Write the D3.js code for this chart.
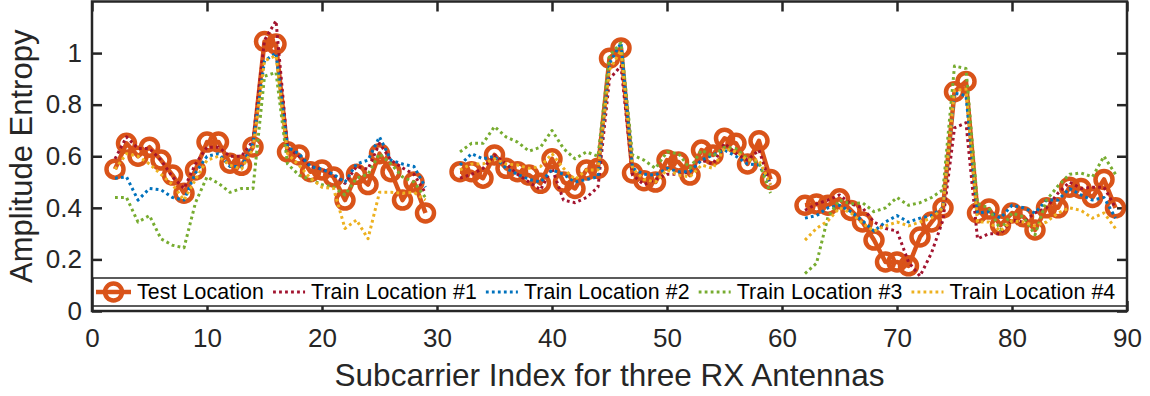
<!DOCTYPE html>
<html>
<head>
<meta charset="utf-8">
<script src="https://cdn.jsdelivr.net/npm/d3@7"></script>
<style>
  body { margin: 0; background: #fff; }
  svg { display: block; font-family: "Liberation Sans", Arial, Helvetica, sans-serif; }
</style>
</head>
<body>
<svg id="chart" width="1150" height="396"></svg>
<script>
// subcarrier index (three antennas, 28 subcarriers each)
const subcarriers = [
  2, 3, 4, 5, 6, 7, 8, 9, 10, 11, 12, 13, 14, 15, 16, 17, 18, 19, 20, 21, 22, 23, 24, 25, 26, 27, 28, 29,
  32, 33, 34, 35, 36, 37, 38, 39, 40, 41, 42, 43, 44, 45, 46, 47, 48, 49, 50, 51, 52, 53, 54, 55, 56, 57, 58, 59,
  62, 63, 64, 65, 66, 67, 68, 69, 70, 71, 72, 73, 74, 75, 76, 77, 78, 79, 80, 81, 82, 83, 84, 85, 86, 87, 88, 89
];

const testLocation = [
  0.55, 0.65, 0.60, 0.635, 0.585, 0.527, 0.457, 0.547, 0.655, 0.655, 0.573, 0.565, 0.636, 1.045, 1.035, 0.617, 0.605, 0.54, 0.547, 0.52, 0.43, 0.53, 0.49, 0.61, 0.54, 0.43, 0.50, 0.38,
  0.54, 0.54, 0.515, 0.605, 0.553, 0.54, 0.527, 0.495, 0.59, 0.50, 0.475, 0.547, 0.553, 0.98, 1.02, 0.535, 0.505, 0.50, 0.585, 0.578, 0.527, 0.624, 0.605, 0.67, 0.65, 0.57, 0.66, 0.51,
  0.41, 0.415, 0.41, 0.435, 0.39, 0.345, 0.275, 0.19, 0.19, 0.175, 0.287, 0.345, 0.40, 0.85, 0.89, 0.38, 0.395, 0.333, 0.38, 0.365, 0.314, 0.40, 0.40, 0.48, 0.475, 0.44, 0.51, 0.40
];
const trainLocation1 = [
  0.59, 0.675, 0.63, 0.63, 0.585, 0.52, 0.475, 0.57, 0.635, 0.635, 0.60, 0.60, 0.66, 1.05, 1.125, 0.635, 0.60, 0.56, 0.55, 0.527, 0.495, 0.56, 0.55, 0.65, 0.585, 0.555, 0.53, 0.457,
  0.515, 0.53, 0.553, 0.605, 0.57, 0.53, 0.50, 0.47, 0.553, 0.43, 0.42, 0.44, 0.48, 0.90, 0.95, 0.527, 0.49, 0.51, 0.53, 0.53, 0.54, 0.585, 0.57, 0.65, 0.61, 0.585, 0.624, 0.49,
  0.39, 0.415, 0.43, 0.45, 0.415, 0.40, 0.345, 0.32, 0.31, 0.19, 0.135, 0.225, 0.353, 0.71, 0.73, 0.28, 0.30, 0.30, 0.353, 0.345, 0.38, 0.40, 0.457, 0.50, 0.475, 0.48, 0.48, 0.40
];
const trainLocation2 = [
  0.515, 0.52, 0.43, 0.475, 0.47, 0.44, 0.43, 0.535, 0.60, 0.61, 0.56, 0.56, 0.65, 0.97, 1.0, 0.635, 0.61, 0.56, 0.55, 0.53, 0.50, 0.57, 0.585, 0.675, 0.585, 0.57, 0.56, 0.48,
  0.566, 0.61, 0.59, 0.60, 0.553, 0.53, 0.51, 0.50, 0.547, 0.53, 0.50, 0.51, 0.52, 0.96, 1.04, 0.553, 0.53, 0.527, 0.553, 0.54, 0.54, 0.585, 0.605, 0.624, 0.60, 0.57, 0.566, 0.49,
  0.36, 0.37, 0.40, 0.41, 0.385, 0.35, 0.31, 0.345, 0.37, 0.345, 0.36, 0.37, 0.40, 0.845, 0.835, 0.38, 0.385, 0.36, 0.41, 0.40, 0.38, 0.43, 0.43, 0.475, 0.45, 0.43, 0.44, 0.36
];
const trainLocation3 = [
  0.44, 0.44, 0.345, 0.37, 0.28, 0.255, 0.245, 0.42, 0.52, 0.495, 0.46, 0.475, 0.475, 0.91, 0.925, 0.57, 0.527, 0.51, 0.49, 0.48, 0.45, 0.515, 0.53, 0.61, 0.57, 0.52, 0.50, 0.44,
  0.617, 0.65, 0.65, 0.715, 0.675, 0.655, 0.62, 0.635, 0.70, 0.63, 0.59, 0.617, 0.60, 0.99, 1.04, 0.605, 0.585, 0.553, 0.617, 0.61, 0.553, 0.624, 0.60, 0.635, 0.63, 0.59, 0.575, 0.457,
  0.145, 0.185, 0.365, 0.43, 0.415, 0.42, 0.385, 0.40, 0.44, 0.41, 0.42, 0.44, 0.47, 0.95, 0.94, 0.415, 0.40, 0.314, 0.38, 0.365, 0.295, 0.43, 0.485, 0.53, 0.535, 0.52, 0.60, 0.53
];
const trainLocation4 = [
  0.55, 0.61, 0.60, 0.57, 0.53, 0.49, 0.43, 0.51, 0.585, 0.60, 0.565, 0.55, 0.63, 0.97, 0.99, 0.61, 0.565, 0.515, 0.48, 0.475, 0.32, 0.353, 0.28, 0.46, 0.46, 0.457, 0.46, 0.43,
  0.547, 0.57, 0.57, 0.59, 0.57, 0.566, 0.553, 0.56, 0.61, 0.553, 0.51, 0.547, 0.547, 0.935, 1.01, 0.553, 0.51, 0.50, 0.547, 0.527, 0.52, 0.566, 0.553, 0.63, 0.617, 0.585, 0.585, 0.49,
  0.275, 0.32, 0.35, 0.40, 0.38, 0.34, 0.31, 0.33, 0.345, 0.33, 0.345, 0.36, 0.40, 0.855, 0.86, 0.345, 0.345, 0.31, 0.35, 0.345, 0.33, 0.345, 0.38, 0.40, 0.39, 0.36, 0.38, 0.32
];

const seriesNames = ["Test Location", "Train Location #1", "Train Location #2", "Train Location #3", "Train Location #4"];
const seriesValues = [testLocation, trainLocation1, trainLocation2, trainLocation3, trainLocation4];
const seriesColors = ["#D95319", "#A2142F", "#0072BD", "#77AC30", "#EDB120"];

const xTicks = [0, 10, 20, 30, 40, 50, 60, 70, 80, 90];
const yTicks = [0, 0.2, 0.4, 0.6, 0.8, 1];

const axisColor = "#262626";
const svg = d3.select("#chart");
const plotLeft = 92, plotRight = 1127, plotTop = 1.5, plotBottom = 311;

const x = d3.scaleLinear().domain([0, 90]).range([plotLeft, plotRight]);
const y = d3.scaleLinear().domain([0, 1.2]).range([plotBottom, plotTop]);

// ticks (inward) on all four sides
const axes = svg.append("g").attr("class", "axes");
axes.append("g")
  .attr("transform", `translate(0,${plotBottom})`)
  .call(d3.axisBottom(x).tickValues(xTicks).tickSize(-10).tickPadding(17.5).tickFormat(d3.format("d")));
axes.append("g")
  .attr("transform", `translate(0,${plotTop})`)
  .call(d3.axisTop(x).tickValues(xTicks).tickSize(-10).tickFormat(""));
axes.append("g")
  .attr("transform", `translate(${plotLeft},0)`)
  .call(d3.axisLeft(y).tickValues(yTicks).tickSize(-10).tickPadding(10).tickFormat(d3.format("~g")));
axes.append("g")
  .attr("transform", `translate(${plotRight},0)`)
  .call(d3.axisRight(y).tickValues(yTicks).tickSize(-10).tickFormat(""));

axes.selectAll(".domain").remove();
axes.selectAll(".tick line").attr("stroke", axisColor).attr("stroke-width", 2.5);
axes.selectAll(".tick text")
  .attr("fill", axisColor)
  .attr("font-size", 26)
  .attr("font-family", "Liberation Sans, Arial, sans-serif");

// split each series where the subcarrier index jumps (antenna boundary)
function segmentsOf(values) {
  const segs = [];
  let cur = [];
  subcarriers.forEach((sc, i) => {
    if (i > 0 && sc - subcarriers[i - 1] > 1) { segs.push(cur); cur = []; }
    cur.push({ sc: sc, v: values[i] });
  });
  segs.push(cur);
  return segs;
}

const line = d3.line().x((d) => x(d.sc)).y((d) => y(d.v));
const plot = svg.append("g").attr("class", "data");

seriesValues.forEach((vals, k) => {
  const g = plot.append("g").attr("class", "series");
  g.selectAll("path")
    .data(segmentsOf(vals))
    .join("path")
    .attr("d", line)
    .attr("fill", "none")
    .attr("stroke", seriesColors[k])
    .attr("stroke-width", k === 0 ? 4.5 : 3)
    .attr("stroke-dasharray", k === 0 ? null : "2.8 3.2")
    .attr("stroke-linejoin", "round");
  if (k === 0) {
    g.selectAll("circle")
      .data(subcarriers.map((sc, i) => ({ sc: sc, v: vals[i] })))
      .join("circle")
      .attr("cx", (d) => x(d.sc))
      .attr("cy", (d) => y(d.v))
      .attr("r", 8.5)
      .attr("fill", "none")
      .attr("stroke", seriesColors[0])
      .attr("stroke-width", 4.5);
  }
});

// legend box over the bottom of the axes
const legend = svg.append("g").attr("class", "legend");
legend.append("rect")
  .attr("x", 93).attr("y", 278)
  .attr("width", 1034).attr("height", 28)
  .attr("fill", "white")
  .attr("stroke", axisColor)
  .attr("stroke-width", 1.5);

let lx = 96;
const ly = 292;
seriesNames.forEach((name, k) => {
  const g = legend.append("g");
  const mw = k === 0 ? 35 : 32;
  g.append("line")
    .attr("x1", lx).attr("x2", lx + mw)
    .attr("y1", ly).attr("y2", ly)
    .attr("stroke", seriesColors[k])
    .attr("stroke-width", k === 0 ? 4.5 : 3)
    .attr("stroke-dasharray", k === 0 ? null : "2.8 3.2");
  if (k === 0) {
    g.append("circle")
      .attr("cx", lx + mw / 2).attr("cy", ly).attr("r", 8.5)
      .attr("fill", "none")
      .attr("stroke", seriesColors[0])
      .attr("stroke-width", 4.5);
  }
  const t = g.append("text")
    .attr("x", lx + mw + 6)
    .attr("y", 299)
    .attr("font-size", 21.3)
    .attr("letter-spacing", 0.12)
    .attr("fill", "#000")
    .text(name);
  lx = lx + mw + 6 + t.node().getComputedTextLength() + 9;
});

// frame
svg.append("rect")
  .attr("x", plotLeft).attr("y", plotTop)
  .attr("width", plotRight - plotLeft).attr("height", plotBottom - plotTop)
  .attr("fill", "none")
  .attr("stroke", axisColor)
  .attr("stroke-width", 2.5);

// axis labels
svg.append("text")
  .attr("x", (plotLeft + plotRight) / 2)
  .attr("y", 386)
  .attr("text-anchor", "middle")
  .attr("font-size", 31.5)
  .attr("fill", axisColor)
  .text("Subcarrier Index for three RX Antennas");

svg.append("text")
  .attr("transform", `translate(31.5,${(plotTop + plotBottom) / 2}) rotate(-90)`)
  .attr("text-anchor", "middle")
  .attr("font-size", 31)
  .attr("fill", axisColor)
  .text("Amplitude Entropy");
</script>
</body>
</html>
